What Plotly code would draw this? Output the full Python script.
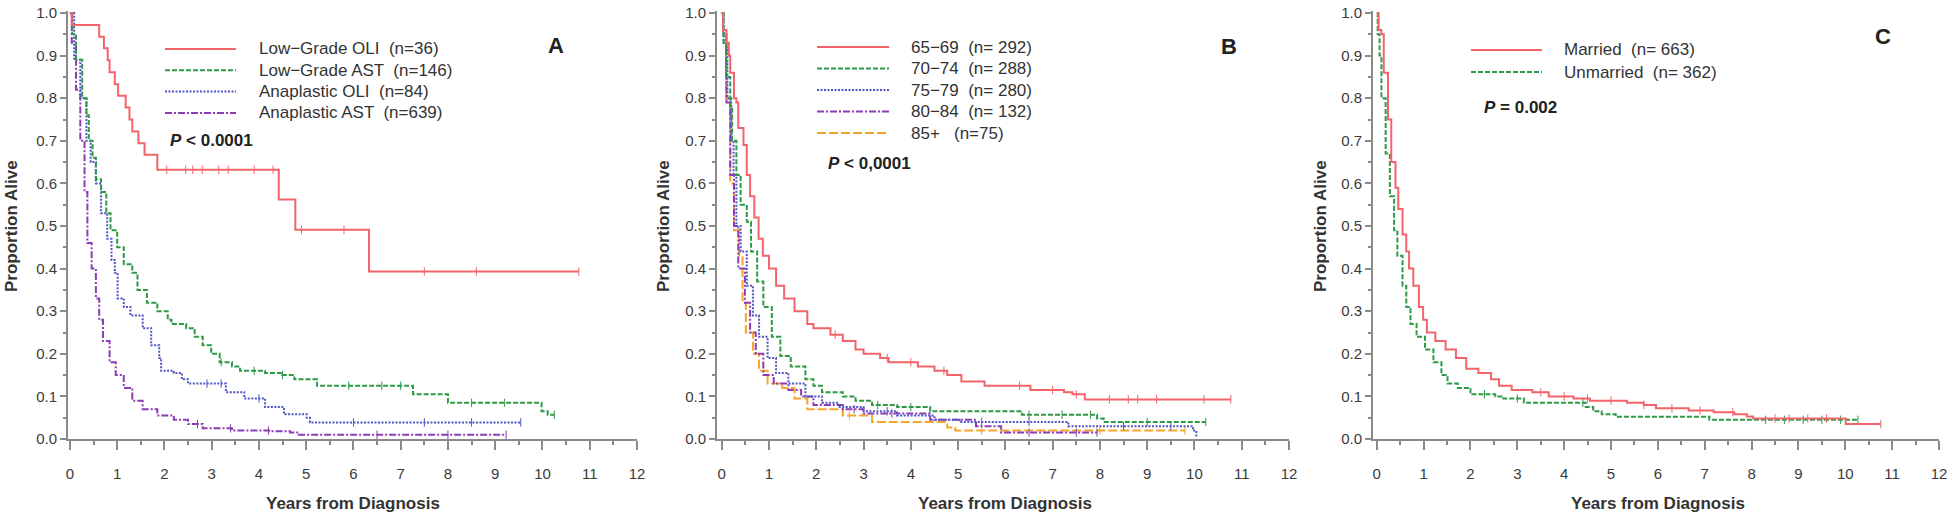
import plotly.graph_objects as go

# ---------------- data ----------------
x_ticks = list(range(0, 13))
y_ticks = [round(i * 0.1, 1) for i in range(11)]

# Panel A: histology
A_labels = ["Low\u2212Grade OLI  (n=36)", "Low\u2212Grade AST  (n=146)",
            "Anaplastic OLI  (n=84)", "Anaplastic AST  (n=639)"]
A_lgoli_t = [0, 0.04, 0.62, 0.72, 0.8, 0.84, 0.95, 1.02, 1.18, 1.26, 1.32, 1.45, 1.58, 1.85, 4.42, 4.77, 6.33, 10.77]
A_lgoli_s = [1.0, 0.972, 0.944, 0.917, 0.889, 0.861, 0.833, 0.806, 0.778, 0.75, 0.722, 0.694, 0.667, 0.632, 0.562, 0.491, 0.393, 0.393]
A_lgoli_c = [2.05, 2.45, 2.6, 2.8, 3.15, 3.35, 3.9, 4.3, 4.9, 5.8, 7.5, 8.6, 10.77]
A_lgast_t = [0, 0.05, 0.13, 0.26, 0.35, 0.4, 0.48, 0.55, 0.66, 0.77, 0.86, 1.0, 1.14, 1.32, 1.43, 1.63, 1.85, 2.07, 2.15, 2.46, 2.64, 2.81, 2.99, 3.17, 3.43, 3.6, 4.13, 4.49, 4.75, 5.23, 7.26, 8.0, 9.98, 10.11, 10.25]
A_lgast_s = [1.0, 0.95, 0.89, 0.80, 0.76, 0.70, 0.66, 0.61, 0.58, 0.53, 0.49, 0.45, 0.41, 0.39, 0.35, 0.32, 0.30, 0.28, 0.27, 0.26, 0.24, 0.22, 0.20, 0.18, 0.17, 0.16, 0.155, 0.15, 0.14, 0.125, 0.105, 0.085, 0.065, 0.057, 0.057]
A_lgast_c = [3.2, 3.9, 4.5, 5.9, 6.6, 7.0, 8.5, 9.2, 10.25]
A_aoli_t = [0, 0.09, 0.22, 0.35, 0.44, 0.55, 0.66, 0.79, 0.88, 0.95, 1.01, 1.14, 1.28, 1.54, 1.72, 1.89, 1.93, 2.2, 2.37, 2.5, 3.3, 3.69, 4.13, 4.53, 5.01, 5.08, 9.54]
A_aoli_s = [1.0, 0.89, 0.80, 0.70, 0.65, 0.60, 0.53, 0.47, 0.42, 0.39, 0.33, 0.31, 0.29, 0.26, 0.22, 0.19, 0.16, 0.155, 0.14, 0.13, 0.11, 0.095, 0.075, 0.058, 0.05, 0.039, 0.039]
A_aoli_c = [2.9, 3.2, 4.0, 6.0, 7.5, 8.5, 9.54]
A_aast_t = [0, 0.04, 0.13, 0.22, 0.31, 0.37, 0.46, 0.55, 0.62, 0.7, 0.84, 0.97, 1.14, 1.32, 1.54, 1.85, 2.2, 2.5, 2.81, 3.43, 4.22, 4.66, 4.84, 9.23]
A_aast_s = [1.0, 0.93, 0.82, 0.70, 0.58, 0.46, 0.40, 0.33, 0.28, 0.23, 0.18, 0.15, 0.12, 0.09, 0.07, 0.055, 0.045, 0.035, 0.025, 0.02, 0.018, 0.015, 0.01, 0.01]
A_aast_c = [2.7, 3.4, 4.2, 6.5, 8.0, 9.23]

# Panel B: age group
B_labels = ["65\u221269  (n= 292)", "70\u221274  (n= 288)", "75\u221279  (n= 280)",
            "80\u221284  (n= 132)", "85+   (n=75)"]
B_6569_t = [0, 0.03, 0.1, 0.15, 0.18, 0.26, 0.31, 0.35, 0.46, 0.53, 0.6, 0.69, 0.78, 0.87, 1.0, 1.15, 1.32, 1.54, 1.81, 1.94, 2.3, 2.56, 2.83, 3.0, 3.35, 3.53, 4.15, 4.5, 4.77, 5.07, 5.56, 6.53, 7.24, 7.42, 7.68, 10.77]
B_6569_s = [1.0, 0.96, 0.93, 0.90, 0.86, 0.80, 0.79, 0.73, 0.69, 0.62, 0.57, 0.52, 0.47, 0.43, 0.40, 0.36, 0.33, 0.30, 0.27, 0.26, 0.245, 0.23, 0.21, 0.20, 0.19, 0.18, 0.17, 0.16, 0.15, 0.135, 0.125, 0.115, 0.11, 0.105, 0.093, 0.093]
B_6569_c = [2.4, 3.5, 4.0, 4.7, 6.3, 7.0, 7.5, 8.2, 8.6, 8.8, 9.2, 10.2, 10.77]
B_7074_t = [0, 0.04, 0.09, 0.18, 0.22, 0.31, 0.4, 0.53, 0.62, 0.75, 0.88, 1.06, 1.24, 1.46, 1.77, 1.94, 2.12, 2.56, 2.83, 3.18, 3.71, 4.41, 6.35, 7.94, 8.08, 10.24]
B_7074_s = [1.0, 0.93, 0.85, 0.78, 0.70, 0.62, 0.55, 0.51, 0.44, 0.37, 0.31, 0.24, 0.195, 0.17, 0.14, 0.125, 0.11, 0.10, 0.09, 0.08, 0.075, 0.065, 0.057, 0.048, 0.04, 0.04]
B_7074_c = [3.3, 4.0, 6.5, 7.2, 7.8, 9.0, 10.24]
B_7579_t = [0, 0.04, 0.12, 0.2, 0.25, 0.31, 0.4, 0.53, 0.66, 0.79, 0.97, 1.15, 1.41, 1.77, 2.12, 2.47, 3.0, 3.71, 4.5, 5.03, 7.33, 9.97, 10.04]
B_7579_s = [1.0, 0.93, 0.80, 0.70, 0.62, 0.50, 0.44, 0.36, 0.29, 0.24, 0.19, 0.155, 0.13, 0.10, 0.085, 0.075, 0.065, 0.055, 0.045, 0.04, 0.03, 0.02, 0.005]
B_7579_c = [3.5, 5.5, 6.5, 8.5, 9.5]
B_8084_t = [0, 0.03, 0.1, 0.18, 0.26, 0.35, 0.49, 0.6, 0.72, 0.88, 1.1, 1.41, 1.68, 1.94, 2.56, 3.0, 4.41, 5.38, 5.91, 7.94]
B_8084_s = [1.0, 0.95, 0.79, 0.62, 0.50, 0.40, 0.32, 0.25, 0.20, 0.15, 0.13, 0.115, 0.10, 0.08, 0.07, 0.06, 0.045, 0.03, 0.015, 0.015]
B_8084_c = [2.8, 3.6, 6.5, 7.5, 7.94]
B_85p_t = [0, 0.03, 0.09, 0.18, 0.26, 0.37, 0.44, 0.51, 0.66, 0.79, 0.97, 1.28, 1.54, 1.81, 2.56, 3.18, 4.77, 4.94, 9.8]
B_85p_s = [1.0, 0.95, 0.80, 0.60, 0.49, 0.43, 0.32, 0.25, 0.20, 0.16, 0.13, 0.12, 0.095, 0.07, 0.055, 0.04, 0.027, 0.02, 0.02]
B_85p_c = [2.7, 5.5, 8.0, 9.8]

# Panel C: marital status
C_labels = ["Married  (n= 663)", "Unmarried  (n= 362)"]
C_mar_t = [0, 0.04, 0.1, 0.15, 0.24, 0.31, 0.4, 0.46, 0.55, 0.63, 0.69, 0.78, 0.9, 0.99, 1.07, 1.25, 1.47, 1.69, 1.91, 2.17, 2.44, 2.61, 2.88, 3.32, 3.67, 4.2, 4.55, 5.34, 5.7, 5.96, 6.66, 7.19, 7.63, 7.9, 8.03, 10.01, 10.76]
C_mar_s = [1.0, 0.96, 0.95, 0.86, 0.75, 0.65, 0.59, 0.54, 0.48, 0.44, 0.40, 0.36, 0.31, 0.28, 0.25, 0.23, 0.21, 0.19, 0.165, 0.155, 0.14, 0.125, 0.115, 0.11, 0.10, 0.095, 0.09, 0.085, 0.08, 0.072, 0.067, 0.063, 0.058, 0.053, 0.048, 0.035, 0.035]
C_mar_c = [3.5, 4.0, 4.5, 5.0, 5.7, 6.3, 6.9, 7.6, 8.5, 8.8, 9.2, 9.6, 10.76]
C_unm_t = [0, 0.02, 0.06, 0.1, 0.19, 0.28, 0.37, 0.44, 0.55, 0.63, 0.72, 0.85, 1.03, 1.21, 1.38, 1.51, 1.73, 2.0, 2.53, 2.7, 3.14, 4.46, 4.62, 4.8, 5.1, 7.1, 10.27]
C_unm_s = [1.0, 0.95, 0.90, 0.80, 0.67, 0.57, 0.49, 0.43, 0.36, 0.31, 0.27, 0.24, 0.21, 0.18, 0.15, 0.13, 0.12, 0.105, 0.10, 0.095, 0.085, 0.075, 0.065, 0.058, 0.052, 0.045, 0.045]
C_unm_c = [2.3, 3.0, 4.4, 8.3, 8.7, 9.1, 9.5, 9.9, 10.27]

panel_letters = ["A", "B", "C"]
p_texts = ["<b><i>P</i> < 0.0001</b>", "<b><i>P</i> < 0,0001</b>", "<b><i>P</i> = 0.002</b>"]

# ---------------- styles ----------------
RED = "#f2646a"
GREEN = "#2e9a48"
BLUE = "#5056c4"
PURPLE = "#8c3cb4"
ORANGE = "#f7a42c"
FONT = "Liberation Sans, Arial, sans-serif"
AXC = "#8a8a8a"

STY = {
    "solid": "solid",
    "dash": "5px,2px",
    "dot": "2px,1.5px",
    "dashdot": "7px,2px,2px,2px",
    "long": "9px,3px",
}

W, H = 1950, 519


def pxx(v):
    return v / W


def pxy(v):
    return (H - v) / H


fig = go.Figure()


def s_at(ts, ss, t):
    val = ss[0]
    for ti, si in zip(ts, ss):
        if ti <= t:
            val = si
    return val


def add_curve(ax, ts, ss, cs, color, dash, name):
    xa = "x" if ax == 1 else f"x{ax}"
    ya = "y" if ax == 1 else f"y{ax}"
    fig.add_trace(go.Scatter(x=ts, y=ss, mode="lines", line_shape="hv",
                             line=dict(color=color, width=2, dash=dash),
                             xaxis=xa, yaxis=ya, name=name, showlegend=False,
                             hoverinfo="skip"))
    fig.add_trace(go.Scatter(x=cs, y=[s_at(ts, ss, c) for c in cs], mode="markers",
                             marker=dict(symbol="line-ns", size=6,
                                         line=dict(color=color, width=1)),
                             xaxis=xa, yaxis=ya, showlegend=False, hoverinfo="skip",
                             cliponaxis=False))


A_series = [(A_lgoli_t, A_lgoli_s, A_lgoli_c, RED, STY["solid"]),
            (A_lgast_t, A_lgast_s, A_lgast_c, GREEN, STY["dash"]),
            (A_aoli_t, A_aoli_s, A_aoli_c, BLUE, STY["dot"]),
            (A_aast_t, A_aast_s, A_aast_c, PURPLE, STY["dashdot"])]
B_series = [(B_6569_t, B_6569_s, B_6569_c, RED, STY["solid"]),
            (B_7074_t, B_7074_s, B_7074_c, GREEN, STY["dash"]),
            (B_7579_t, B_7579_s, B_7579_c, BLUE, STY["dot"]),
            (B_8084_t, B_8084_s, B_8084_c, PURPLE, STY["dashdot"]),
            (B_85p_t, B_85p_s, B_85p_c, ORANGE, STY["long"])]
C_series = [(C_mar_t, C_mar_s, C_mar_c, RED, STY["solid"]),
            (C_unm_t, C_unm_s, C_unm_c, GREEN, STY["dash"])]

for (ts, ss, cs, col, d), lab in reversed(list(zip(A_series, A_labels))):
    add_curve(1, ts, ss, cs, col, d, lab)
for (ts, ss, cs, col, d), lab in reversed(list(zip(B_series, B_labels))):
    add_curve(2, ts, ss, cs, col, d, lab)
for (ts, ss, cs, col, d), lab in reversed(list(zip(C_series, C_labels))):
    add_curve(3, ts, ss, cs, col, d, lab)

# ---------------- axes ----------------
panels = [  # (left px, right px, x range start)
    (68, 637, -0.04),
    (717, 1289, -0.10),
    (1373, 1939, -0.08),
]
ydom = [pxy(439), pxy(439 - 1.005 * 426)]

layout = dict(width=W, height=H, margin=dict(l=0, r=0, t=0, b=0),
              plot_bgcolor="white", paper_bgcolor="white", showlegend=False,
              font=dict(family=FONT, color="#333"))
for i, (l, r, x0) in enumerate(panels, start=1):
    sx = "" if i == 1 else str(i)
    layout[f"xaxis{sx}"] = dict(
        domain=[pxx(l), pxx(r)], range=[x0, 12], anchor=f"y{sx}",
        tickvals=x_ticks, ticktext=[str(v) for v in x_ticks],
        showline=True, linecolor=AXC, linewidth=2, showgrid=False, zeroline=False,
        ticks="outside", ticklen=9, tickwidth=2, tickcolor=AXC,
        minor=dict(dtick=0.5, ticks="outside", ticklen=4, tickwidth=1.5, tickcolor=AXC),
        tickfont=dict(size=15, color="#3a3a3a"), ticklabelstandoff=11, automargin=False)
    layout[f"yaxis{sx}"] = dict(
        domain=ydom, range=[0, 1.005], anchor=f"x{sx}",
        tickvals=y_ticks, ticktext=[f"{v:.1f}" for v in y_ticks],
        showline=True, linecolor=AXC, linewidth=2, showgrid=False, zeroline=False,
        ticks="outside", ticklen=6, tickwidth=2, tickcolor=AXC,
        minor=dict(dtick=0.05, ticks="outside", ticklen=3, tickwidth=1.5, tickcolor=AXC),
        tickfont=dict(size=15, color="#3a3a3a"), automargin=False)
fig.update_layout(**layout)

# ---------------- texts & legends ----------------
ann = []
shapes = []


def text(x, y, s, size=15, anchor="left", angle=0, color="#333"):
    ann.append(dict(x=pxx(x), y=pxy(y), xref="paper", yref="paper", text=s,
                    showarrow=False, xanchor=anchor, yanchor="middle", textangle=angle,
                    font=dict(size=size, color=color, family=FONT)))


# axis titles
for yx, xc in [(12, 353), (664, 1005), (1321, 1658)]:
    text(yx, 226, "<b>Proportion Alive</b>", size=17, anchor="center", angle=-90)
    text(xc, 503, "<b>Years from Diagnosis</b>", size=17, anchor="center")

# panel letters
for (x, y), letter in zip([(556, 45), (1229, 46), (1883, 37)], panel_letters):
    text(x, y, f"<b>{letter}</b>", size=22, anchor="center", color="#222")

# legends
legend_geo = [  # line x0, line x1, text x, first row y, row step
    (165, 236, 257, 49, 21.3),
    (817, 889, 909, 47, 21.5),
    (1471, 1542, 1562, 50, 22.0),
]
for (lx0, lx1, tx, y0, dy), series, labels in zip(legend_geo, [A_series, B_series, C_series],
                                                    [A_labels, B_labels, C_labels]):
    for k, (ser, lab) in enumerate(zip(series, labels)):
        yy = y0 + k * dy
        shapes.append(dict(type="line", xref="paper", yref="paper",
                           x0=pxx(lx0), x1=pxx(lx1), y0=pxy(yy), y1=pxy(yy),
                           line=dict(color=ser[3], width=2, dash=ser[4])))
        text(tx, yy, lab, size=17)

# p values
for (x, y), s in zip([(168, 140), (826, 163), (1482, 107)], p_texts):
    text(x, y, s, size=17, color="#222")

fig.update_layout(annotations=ann, shapes=shapes)
fig.write_html("out.html", config={"displayModeBar": False},
               post_script="document.body.style.margin='0';")
